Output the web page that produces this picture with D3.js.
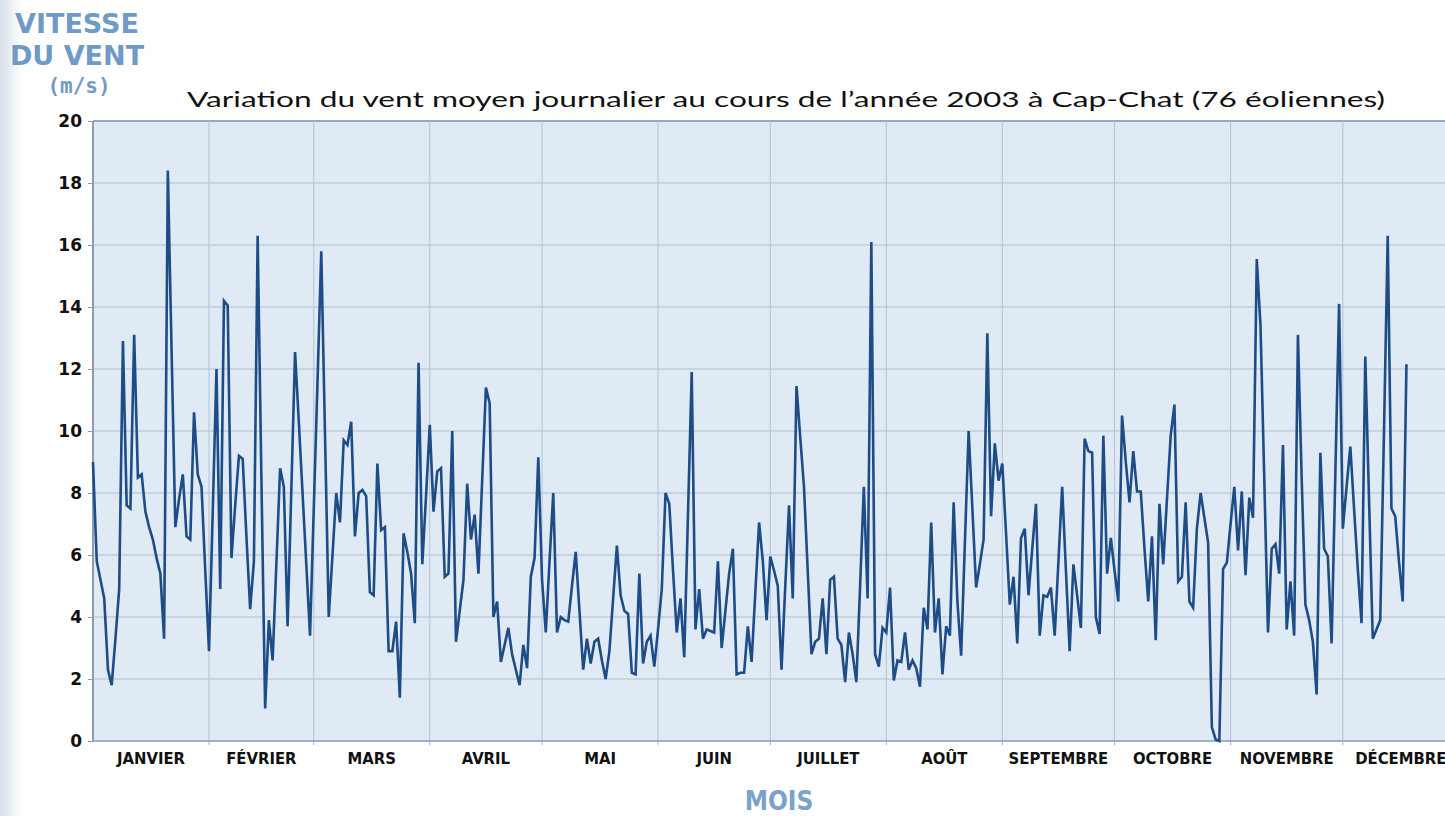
<!DOCTYPE html>
<html>
<head>
<meta charset="utf-8">
<script src="https://cdn.jsdelivr.net/npm/d3@7"></script>
<style>
  html, body { margin: 0; padding: 0; background: #ffffff; }
  svg { display: block; }
</style>
</head>
<body>
<div id="plotRegi"></div>
<script>
/* Data */
// Month names and lengths (2003)
const months = ["JANVIER", "FÉVRIER", "MARS", "AVRIL", "MAI", "JUIN", "JUILLET", "AOÛT", "SEPTEMBRE", "OCTOBRE", "NOVEMBRE", "DÉCEMBRE"]
const monthDays = [31, 28, 31, 30, 31, 30, 31, 31, 30, 31, 30, 31]
const yTicks = [0, 2, 4, 6, 8, 10, 12, 14, 16, 18, 20]

// Daily mean wind speed (m/s)
const jan = [9.0, 5.8, 5.2, 4.6, 2.3, 1.8, 3.3, 4.9, 12.9, 7.6, 7.5, 13.1, 8.5, 8.6, 7.4, 6.9, 6.5, 5.9, 5.4, 3.3, 18.4, 12.6, 6.9, 7.8, 8.6, 6.6, 6.5, 10.6, 8.6, 8.2, 5.5]
const feb = [2.9, 7.4, 12.0, 4.9, 14.2, 14.05, 5.9, 7.6, 9.2, 9.1, 6.6, 4.25, 5.8, 16.3, 8.5, 1.05, 3.9, 2.6, 5.7, 8.8, 8.2, 3.7, 8.1, 12.55, 10.3, 8.0, 5.7, 3.4]
const mar = [7.5, 11.6, 15.8, 9.9, 4.0, 6.0, 8.0, 7.05, 9.7, 9.55, 10.3, 6.6, 8.0, 8.1, 7.9, 4.8, 4.7, 8.95, 6.8, 6.9, 2.9, 2.9, 3.85, 1.4, 6.7, 6.1, 5.4, 3.8, 12.2, 5.7, 7.9]
const apr = [10.2, 7.4, 8.7, 8.8, 5.3, 5.4, 10.0, 3.2, 4.2, 5.2, 8.3, 6.5, 7.3, 5.4, 8.4, 11.4, 10.9, 4.0, 4.5, 2.55, 3.1, 3.65, 2.8, 2.3, 1.8, 3.1, 2.35, 5.3, 5.9, 9.15]
const may = [5.2, 3.5, 5.8, 8.0, 3.5, 4.0, 3.9, 3.85, 5.0, 6.1, 4.2, 2.3, 3.3, 2.5, 3.2, 3.3, 2.6, 2.0, 2.9, 4.6, 6.3, 4.7, 4.2, 4.1, 2.2, 2.15, 5.4, 2.5, 3.2, 3.4, 2.4]
const jun = [3.6, 4.9, 8.0, 7.65, 5.5, 3.5, 4.6, 2.7, 7.3, 11.9, 3.6, 4.9, 3.3, 3.6, 3.55, 3.5, 5.8, 3.0, 4.2, 5.4, 6.2, 2.15, 2.2, 2.2, 3.7, 2.55, 4.8, 7.05, 5.8, 3.9]
const jul = [5.95, 5.5, 5.0, 2.3, 5.0, 7.6, 4.6, 11.45, 9.8, 8.2, 5.5, 2.8, 3.2, 3.3, 4.6, 2.8, 5.2, 5.3, 3.3, 3.1, 1.9, 3.5, 2.8, 1.9, 5.0, 8.2, 4.6, 16.1, 2.8, 2.4, 3.65]
const aug = [3.5, 4.95, 1.95, 2.6, 2.55, 3.5, 2.3, 2.6, 2.35, 1.75, 4.3, 3.6, 7.05, 3.5, 4.6, 2.15, 3.7, 3.4, 7.7, 4.5, 2.75, 6.4, 10.0, 7.5, 4.95, 5.7, 6.5, 13.15, 7.25, 9.6, 8.4]
const sep = [8.95, 6.7, 4.4, 5.3, 3.15, 6.55, 6.85, 4.7, 6.2, 7.65, 3.4, 4.7, 4.65, 4.95, 3.4, 5.8, 8.2, 5.5, 2.9, 5.7, 4.7, 3.65, 9.75, 9.35, 9.3, 4.0, 3.45, 9.85, 5.4, 6.55]
const oct = [5.5, 4.5, 10.5, 9.0, 7.7, 9.35, 8.05, 8.05, 6.2, 4.5, 6.6, 3.25, 7.65, 5.7, 7.8, 9.85, 10.85, 5.15, 5.3, 7.7, 4.5, 4.3, 6.85, 8.0, 7.2, 6.4, 0.45, 0.05, 0.0, 5.55, 5.75]
const nov = [7.0, 8.2, 6.15, 8.05, 5.35, 7.85, 7.2, 15.55, 13.4, 8.5, 3.5, 6.2, 6.35, 5.4, 9.55, 3.6, 5.15, 3.4, 13.1, 8.5, 4.4, 3.9, 3.2, 1.5, 9.3, 6.2, 5.95, 3.15, 8.6, 14.1]
const dec = [6.85, 8.2, 9.5, 7.5, 5.55, 3.8, 12.4, 7.8, 3.3, 3.6, 3.9, 10.0, 16.3, 7.5, 7.25, 5.8, 4.5, 12.15]

const wind = [].concat(jan, feb, mar, apr, may, jun, jul, aug, sep, oct, nov, dec)


/* Drawing */
var width = 1445, height = 816
var margin = { top: 121, left: 93, bottom: 741 }

// Month start positions in days
var monthStart = []
monthDays.reduce((acc, n) => { monthStart.push(acc); return acc + n }, 0)

// Scales
var scale_x = d3
    .scaleLinear()
    .domain([0, 365])
    .range([margin.left, margin.left + 365 * 3.742])

var scale_y = d3
    .scaleLinear()
    .domain([0, 20])
    .range([margin.bottom, margin.top])

var svg = d3
    .select("#plotRegi")
    .append("svg")
    .attr("width", width)
    .attr("height", height)

// Pale bluish strip on the left edge of the page
var grad = svg.append("defs").append("linearGradient").attr("id", "leftFade")
grad.append("stop").attr("offset", "0%").attr("stop-color", "#d6dfe9")
grad.append("stop").attr("offset", "100%").attr("stop-color", "#ffffff")
svg.append("rect")
    .attr("x", 0).attr("y", 0)
    .attr("width", 22).attr("height", height)
    .style("fill", "url(#leftFade)")

// Plot background
svg.append("rect")
    .attr("x", scale_x(0))
    .attr("y", scale_y(20))
    .attr("width", scale_x(365) - scale_x(0))
    .attr("height", scale_y(0) - scale_y(20))
    .style("fill", "#e0eaf5")

// Horizontal grid
svg.append("g")
    .attr("id", "GridY")
    .selectAll("line")
    .data(yTicks)
    .enter()
    .append("line")
    .attr("x1", scale_x(0))
    .attr("x2", scale_x(365))
    .attr("y1", d => scale_y(d))
    .attr("y2", d => scale_y(d))
    .style("stroke", d => d == 20 ? "#8fa9c6" : "#aebfd2")
    .style("stroke-width", d => d == 20 ? "2px" : "1px")

// Vertical grid at month starts
svg.append("g")
    .attr("id", "GridX")
    .selectAll("line")
    .data(monthStart.slice(1))
    .enter()
    .append("line")
    .attr("x1", d => scale_x(d))
    .attr("x2", d => scale_x(d))
    .attr("y1", scale_y(20))
    .attr("y2", scale_y(0))
    .style("stroke", "#b2c3d6")
    .style("stroke-width", "1px")

// Axis lines
svg.append("line")
    .attr("x1", scale_x(0)).attr("x2", scale_x(0))
    .attr("y1", scale_y(20)).attr("y2", scale_y(0))
    .style("stroke", "#8c9db2").style("stroke-width", "2px")
svg.append("line")
    .attr("x1", scale_x(0)).attr("x2", scale_x(365))
    .attr("y1", scale_y(0)).attr("y2", scale_y(0))
    .style("stroke", "#8fa5bf").style("stroke-width", "1.5px")

// Y axis ticks and labels
var axisY = svg.append("g")
    .attr("id", "AxisY")
    .attr("transform", "translate(" + scale_x(0) + ",0)")
    .call(d3.axisLeft(scale_y).tickValues(yTicks).tickSize(5).tickPadding(6))
axisY.select(".domain").remove()
axisY.selectAll("line").style("stroke", "#8c9db2")
axisY.selectAll("text")
    .style("font-family", "'DejaVu Sans', sans-serif")
    .style("font-weight", "bold")
    .style("font-size", "17px")
    .style("fill", "#111")

// X axis small ticks at month starts
svg.append("g")
    .selectAll("line")
    .data(monthStart.slice(1))
    .enter()
    .append("line")
    .attr("x1", d => scale_x(d)).attr("x2", d => scale_x(d))
    .attr("y1", scale_y(0)).attr("y2", scale_y(0) + 4)
    .style("stroke", "#9fb2c8")

// Month labels
svg.append("g")
    .attr("id", "AxisX")
    .selectAll("text")
    .data(months)
    .enter()
    .append("text")
    .attr("x", (d, i) => scale_x(monthStart[i] + monthDays[i] / 2))
    .attr("y", 764)
    .attr("text-anchor", "middle")
    .style("font-family", "'DejaVu Sans Condensed', 'DejaVu Sans', sans-serif")
    .style("font-stretch", "condensed")
    .style("font-weight", "bold")
    .style("font-size", "16.5px")
    .style("fill", "#111")
    .text(d => d)

// The wind line
var line = d3.line()
    .x((d, i) => scale_x(i))
    .y(d => scale_y(d))

svg.append("path")
    .datum(wind)
    .attr("d", line)
    .style("fill", "none")
    .style("stroke", "#1d4c86")
    .style("stroke-width", "2.6px")
    .style("stroke-linejoin", "miter")

// Titles
svg.append("text")
    .attr("x", 187)
    .attr("y", 107)
    .attr("textLength", 1198)
    .attr("lengthAdjust", "spacingAndGlyphs")
    .style("font-family", "'Lato', 'Open Sans', sans-serif")
    .style("font-size", "21px")
    .style("fill", "#111")
    .text("Variation du vent moyen journalier au cours de l’année 2003 à Cap-Chat (76 éoliennes)")

// Y axis title (three stacked lines)
var yTitle = svg.append("g")
    .attr("text-anchor", "middle")
    .style("font-family", "'DejaVu Sans', sans-serif")
    .style("font-weight", "bold")
    .style("fill", "#6f99c6")
yTitle.append("text").attr("x", 77).attr("y", 33).style("font-size", "27px").text("VITESSE")
yTitle.append("text").attr("x", 77).attr("y", 65).style("font-size", "27px").text("DU VENT")
yTitle.append("text").attr("x", 79).attr("y", 93)
    .style("font-family", "'DejaVu Sans Mono', monospace")
    .style("font-size", "21px").text("(m/s)")

svg.append("text")
    .attr("x", 779)
    .attr("y", 810)
    .attr("text-anchor", "middle")
    .style("font-family", "'DejaVu Sans Condensed', 'DejaVu Sans', sans-serif")
    .style("font-stretch", "condensed")
    .style("font-weight", "bold")
    .style("font-size", "26px")
    .style("fill", "#7aa2cc")
    .text("MOIS")
</script>
</body>
</html>
